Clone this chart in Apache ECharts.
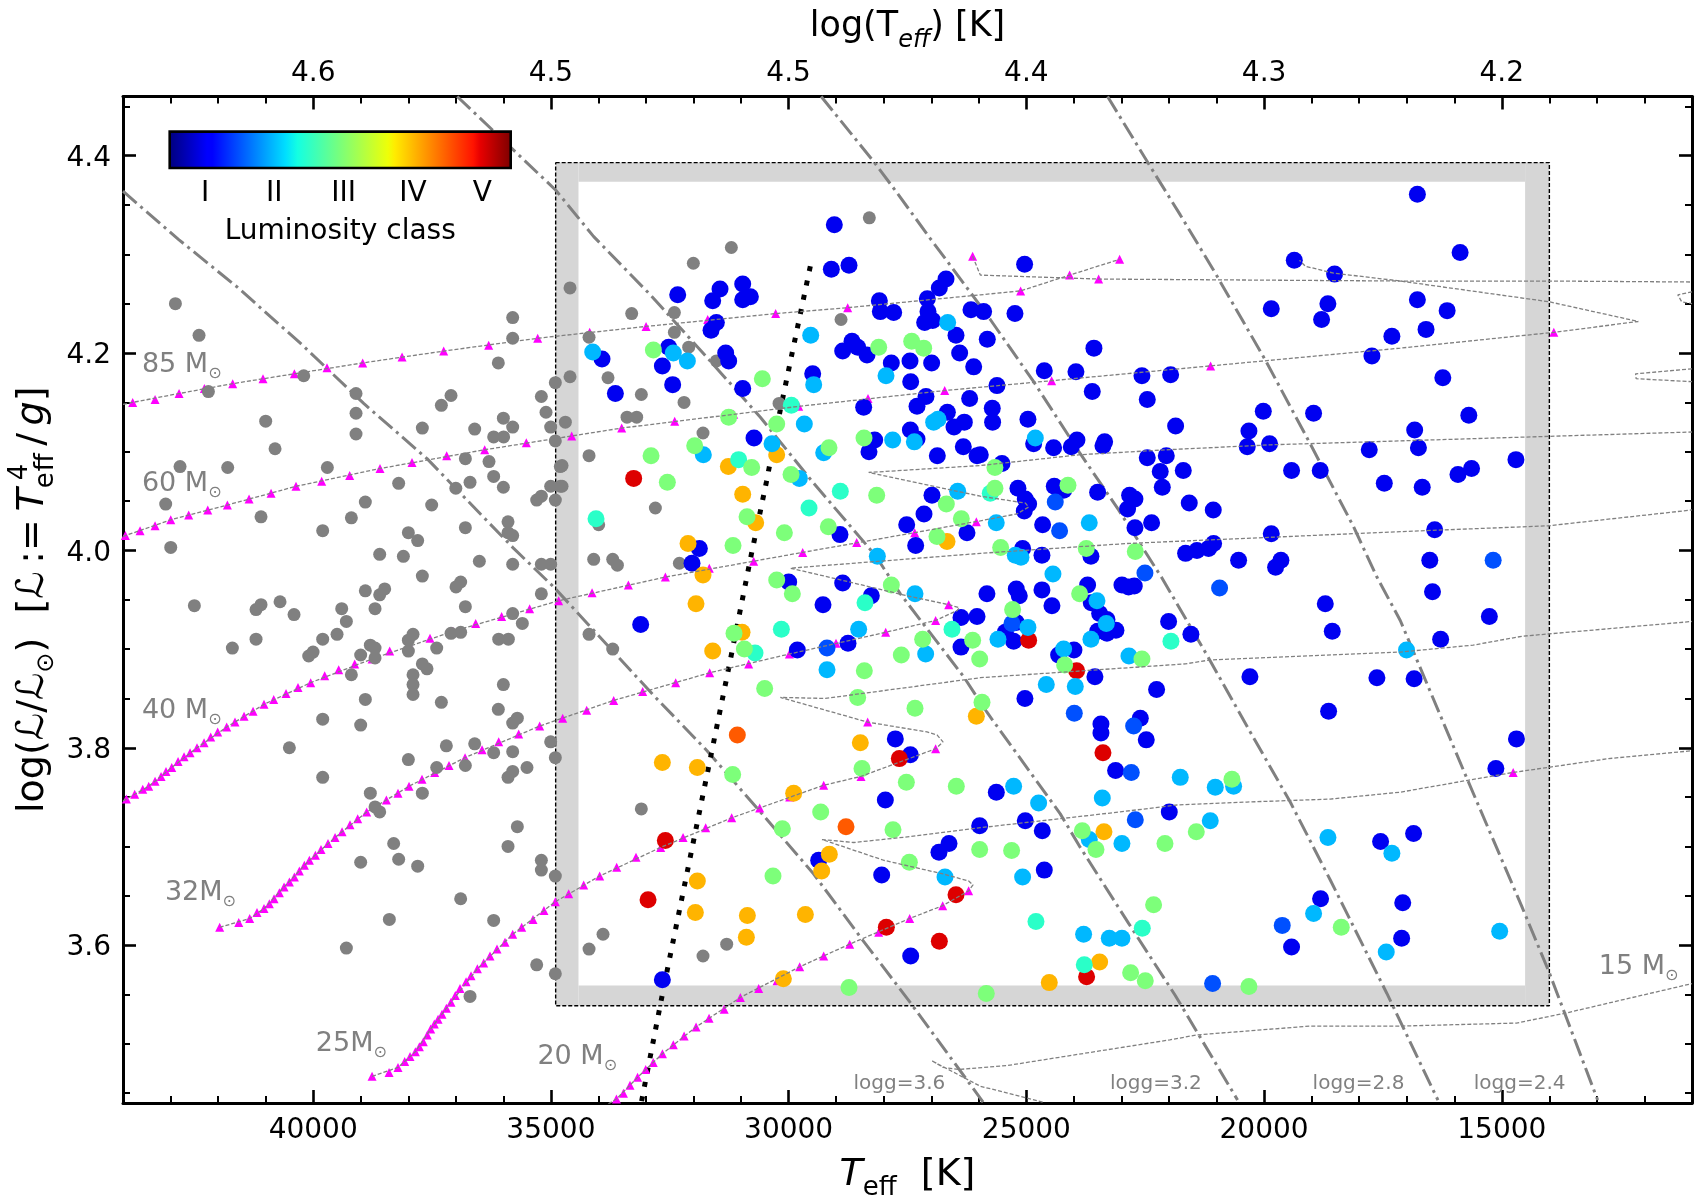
<!DOCTYPE html>
<html>
<head>
<meta charset="utf-8">
<title>sHRD</title>
<script src="https://cdn.jsdelivr.net/npm/echarts@6/dist/echarts.min.js"></script>
<style>
html, body { margin: 0; padding: 0; background: #fff; }
#chart { width: 1700px; height: 1200px; }
</style>
</head>
<body>
<div id="chart"></div>
<script>
const xMajor = [15000, 20000, 25000, 30000, 35000, 40000];
const xMinor = [12000,13000,14000,16000,17000,18000,19000,21000,22000,23000,24000,26000,27000,28000,29000,31000,32000,33000,34000,36000,37000,38000,39000,41000,42000,43000];
const yMajor = [3.6, 3.8, 4.0, 4.2, 4.4];
const yMinor = [3.45,3.5,3.55,3.65,3.7,3.75,3.85,3.9,3.95,4.05,4.1,4.15,4.25,4.3,4.35,4.45];
const classTicks = [1, 2, 3, 4, 5];
const classNames = ['I', 'II', 'III', 'IV', 'V'];

// stars: [Teff, log(L/Lsun)]
const starsNoClass = [[42898,4.250],[42401,4.218],[40199,4.177],[42204,4.161],[39099,4.159],[39099,4.139],[39099,4.118],[40999,4.131],[40802,4.103],[42800,4.085],[41798,4.084],[39702,4.084],[43102,4.047],[41097,4.034],[42996,4.003],[39800,4.020],[39197,4.033],[38903,4.049],[38202,4.068],[37508,4.046],[37998,4.018],[37802,4.010],[38601,3.996],[38103,3.994],[37704,3.974],[37000,4.063],[36799,4.023],[36701,4.069],[36799,4.093],[36302,4.090],[36204,4.075],[36000,4.064],[36106,4.190],[35804,4.215],[35804,4.236],[34907,4.170],[35201,4.156],[35103,4.140],[35005,4.125],[34907,4.111],[36603,4.123],[36204,4.115],[35994,4.115],[36000,4.134],[35804,4.125],[37304,4.147],[37101,4.157],[37704,4.124],[35902,4.029],[35902,4.018],[35804,4.015],[35804,3.986],[35201,3.986],[35005,3.986],[35201,4.055],[35299,4.051],[35005,4.065],[34802,4.065],[34907,4.051],[34802,4.085],[36505,3.989],[36898,3.968],[36996,3.963],[36799,3.943],[35201,3.956],[35804,3.936],[35601,3.926],[36098,3.910],[35895,3.910],[37101,3.916],[36898,3.917],[37402,3.901],[37998,3.898],[37900,3.915],[37998,3.909],[38798,3.904],[38699,3.901],[38699,3.891],[39001,3.894],[37704,3.885],[37606,3.880],[37900,3.874],[39197,3.874],[38903,3.959],[38601,3.955],[38496,3.961],[39400,3.941],[39302,3.928],[39498,3.915],[39800,3.910],[40003,3.897],[40094,3.893],[38699,3.941],[40697,3.948],[40403,3.935],[41097,3.945],[41202,3.940],[41202,3.910],[41700,3.901],[42499,3.944],
  [37900,3.864],[37900,3.854],[38903,3.849],[39800,3.829],[39001,3.823],[37304,3.846],[36000,3.864],[36106,3.839],[35706,3.830],[35804,3.825],[40501,3.800],[35005,3.806],[34907,3.790],[37998,3.788],[37199,3.802],[36603,3.804],[36204,3.795],[35804,3.796],[36799,3.782],[37402,3.780],[35503,3.780],[35804,3.776],[35902,3.770],[39800,3.770],[37704,3.754],[38798,3.754],[38699,3.740],[38601,3.735],[35706,3.720],[38307,3.703],[38202,3.687],[39001,3.684],[37802,3.680],[35902,3.700],[35201,3.686],[35201,3.676],[34907,3.670],[36898,3.647],[38398,3.626],[36204,3.625],[39302,3.597],[35299,3.580],[34907,3.571],[36701,3.548],
  [34598,4.266],[28303,4.337],[31205,4.307],[32004,4.291],[33301,4.240],[32403,4.241],[32403,4.221],[34198,4.216],[32102,4.206],[31520,4.192],[34598,4.176],[33799,4.175],[33098,4.158],[32200,4.150],[28898,4.234],[30202,4.149],[33399,4.135],[33196,4.135],[34696,4.130],[31801,4.119],[34198,4.096],[34766,4.086],[34766,4.065],[32803,4.043],[33995,4.026],[34100,3.991],[33700,3.991],[33602,3.985],[32298,3.987],
  [34198,3.915],[33700,3.900],[33098,3.738],[33904,3.611],[34198,3.596],[31801,3.589],[31303,3.601]];

const starsI = [[29039,4.330],[28730,4.289],[29102,4.285],[32333,4.259],[31443,4.265],[31597,4.253],[30966,4.270],[30805,4.257],[30966,4.254],[31520,4.231],[31632,4.223],[32523,4.206],[32656,4.187],[33925,4.194],[32439,4.168],[33644,4.159],[31324,4.200],[31261,4.192],[30966,4.164],[29494,4.179],[30728,4.114],[28422,4.145],[28863,4.202],[28667,4.212],[28548,4.206],[28352,4.198],[27840,4.190],[27447,4.192],[26992,4.190],[27433,4.171],[28092,4.253],[28071,4.242],[27791,4.241],[27083,4.255],[27069,4.242],[27139,4.231],[26971,4.233],[26831,4.266],[26690,4.275],[26165,4.244],[26480,4.218],[26403,4.200],[26108,4.186],[27111,4.156],[27300,4.146],[26662,4.140],[26305,4.130],[26522,4.125],[26193,4.154],[27440,4.122],[27300,4.113],[28190,4.112],[28310,4.100],[26873,4.096],[26326,4.105],[26038,4.096],[26985,4.056],[27153,4.037],[27517,4.026],[28920,4.016],[27328,4.005],[26249,4.018],[31878,4.002],[32032,3.987],[29999,3.968],[28863,3.967],
  [25037,4.290],[19365,4.294],[18517,4.280],[25899,4.242],[25240,4.240],[19849,4.245],[18658,4.250],[18791,4.234],[17312,4.217],[17732,4.197],[25822,4.214],[23579,4.205],[24623,4.182],[23957,4.181],[22569,4.177],[21966,4.178],[23614,4.161],[25618,4.167],[22457,4.153],[25717,4.144],[25710,4.130],[24967,4.133],[21861,4.126],[20017,4.141],[18959,4.139],[20319,4.121],[20354,4.105],[19884,4.108],[24847,4.108],[24427,4.104],[23936,4.112],[24055,4.105],[23354,4.110],[23389,4.106],[17788,4.102],[25969,4.097],[25513,4.088],[22457,4.094],[22057,4.096],[22184,4.080],[21700,4.081],[22141,4.064],[19422,4.081],[18819,4.081],[17472,4.068],[25177,4.063],[24413,4.065],[25023,4.052],[24952,4.047],[25044,4.040],[24216,4.061],[23501,4.059],[22829,4.056],[22716,4.052],[22871,4.042],[21574,4.048],[21069,4.041],[22366,4.028],[22716,4.023],[24658,4.026],[19849,4.017],[25079,4.002],[24672,3.995],[23642,3.994],[21062,4.007],[21167,4.002],[21412,4.000],[21651,3.997],[20536,3.990],[19646,3.990],[19758,3.983],[23712,3.965],
  [33112,3.925],[28261,3.954],[29277,3.945],[29817,3.899],[28751,3.906],[26375,3.932],[26038,3.933],[26375,3.902],[27756,3.809],[27440,3.793],[27966,3.747],[25982,3.721],[26627,3.703],[26838,3.694],[29368,3.686],[28043,3.671],[27433,3.589],[32656,3.565],
  [25829,3.956],[25212,3.961],[25149,3.954],[24672,3.960],[24462,3.944],[23635,3.947],[23459,3.936],[23305,3.930],[23116,3.919],[23305,3.916],[23501,3.918],[25212,3.927],[25443,3.917],[25268,3.908],[22008,3.928],[21539,3.915],[18713,3.946],[18566,3.918],[23999,3.899],[24322,3.894],[23558,3.872],[22261,3.859],[25030,3.850],[20298,3.872],[17627,3.871],[18643,3.837],[23431,3.824],[23431,3.815],[22604,3.830],[22478,3.808],[23123,3.777],[21994,3.735],[25632,3.755],[25023,3.726],[24665,3.716],[24623,3.676],[18812,3.647],[19422,3.598],[17550,3.705],[22990,3.965],[22850,3.963],[22730,3.964],
  [16776,4.361],[15877,4.302],[16776,4.254],[16150,4.243],[16594,4.224],[16241,4.175],[15694,4.137],[16833,4.122],[16754,4.104],[14703,4.092],[15637,4.083],[15922,4.077],[16674,4.064],[16458,3.958],[16515,3.990],[16412,4.021],[15262,3.933],[16287,3.910],[16845,3.870],[14692,3.809],[15125,3.779],[16856,3.713],[17084,3.643],[17107,3.607]];

const starsIb = [[24392,4.049],[24301,4.020],[22506,3.977],[29193,3.901],[25303,3.926],[23992,3.835],[22744,3.822],[22793,3.775],[22709,3.727],[19618,3.620],[20936,3.962],[21083,3.561],[15182,3.990]];

const starsII = [[34121,4.201],[32425,4.200],[32130,4.192],[29536,4.218],[29473,4.168],[26655,4.231],[27952,4.177],[29670,4.128],[30350,4.108],[31794,4.097],[29263,4.099],[27812,4.112],[27356,4.110],[26950,4.130],[26859,4.133],[29775,4.073],[26445,4.060],[28134,3.994],[24812,4.114],[23677,4.028],[25633,4.028],[25233,3.995],[25114,3.993],[24441,3.976],[28527,3.920],[29193,3.879],[27342,3.956],[27118,3.895],[26711,3.669],[24967,3.922],[25597,3.910],[23515,3.949],[23319,3.926],[23642,3.910],[24216,3.900],[22842,3.893],[24581,3.864],[23971,3.862],[21763,3.770],[21027,3.760],[20641,3.761],[23403,3.749],[25268,3.761],[24742,3.744],[21132,3.726],[22990,3.703],[23677,3.707],[25079,3.669],[18657,3.709],[17312,3.693],[18959,3.632],[23796,3.611],[23256,3.607],[22990,3.607],[17431,3.593],[15045,3.614],[17004,3.899]];

const starsIIb = [[29943,4.147],[31051,4.092],[34051,4.032],[28913,4.060],[29571,4.043],[30153,3.920],[30707,3.896],[28394,3.947],[26564,3.920],[21959,3.908],[24798,3.624],[22562,3.617],[23782,3.580],[25759,4.058]];

const starsIII = [[32845,4.203],[30553,4.174],[31261,4.135],[30251,4.128],[31976,4.106],[32894,4.096],[32551,4.069],[30777,4.084],[29950,4.077],[29151,4.104],[28415,4.114],[28106,4.206],[27412,4.212],[27160,4.205],[28148,4.056],[30875,4.034],[30090,4.018],[29165,4.024],[31170,4.005],[26683,4.047],[26368,4.032],[26880,4.014],[30251,3.970],[25541,4.003],[23740,4.002],[22709,3.999],[25661,4.084],[25661,4.063],[24125,4.066],[29922,3.956],[27840,3.965],[31149,3.916],[30931,3.900],[27181,3.910],[27630,3.894],[28408,3.878],[26130,3.909],[25982,3.890],[30504,3.860],[28548,3.851],[27342,3.840],[25933,3.846],[31177,3.773],[28457,3.779],[27524,3.765],[26473,3.761],[29326,3.735],[30132,3.718],[27805,3.717],[27461,3.684],[25982,3.697],[30329,3.670],[28730,3.557],[23880,3.956],[25289,3.940],[24195,3.884],[22569,3.890],[25310,3.696],[23824,3.716],[23536,3.697],[22085,3.703],[21426,3.715],[20676,3.768],[22324,3.641],[18377,3.618],[22807,3.572],[22499,3.564],[20319,3.558],[25843,3.551]];

const starsIV = [[32116,4.007],[31268,4.085],[30966,4.057],[30251,4.097],[30693,4.028],[26669,4.009],[31801,3.975],[31948,3.946],[30980,3.917],[31597,3.898],[26052,3.832],[28492,3.805],[32656,3.785],[31920,3.780],[29894,3.754],[29144,3.692],[29305,3.675],[31920,3.665],[31962,3.633],[30868,3.630],[29648,3.631],[30889,3.608],[30111,3.566],[23368,3.715],[23459,3.583],[24518,3.562]];

const starsIVb = [[31079,3.813],[28793,3.720]];

const starsV = [[33259,4.073],[32593,3.706],[32957,3.646],[27672,3.789],[26480,3.651],[27945,3.618],[26830,3.604],[24952,3.909],[23943,3.878],[23389,3.795],[23733,3.568]];

// evolutionary tracks, the marks* points carry a triangle
const marks85 = [[43796,4.150],[43326,4.153],[42821,4.159],[42288,4.164],[41693,4.169],[41055,4.174],[40396,4.179],[39709,4.185],[38959,4.190],[38131,4.196],[37255,4.202],[36309,4.208],[35278,4.215],[34184,4.221],[32999,4.227],[31702,4.234],[30273,4.240],[28758,4.246],[25121,4.263],[24090,4.279],[23039,4.295],[26130,4.298],[23480,4.275]];
const track85a = [[44000,4.148],[43796,4.150],[42821,4.159],[41693,4.169],[40396,4.179],[38959,4.190],[37255,4.202],[35278,4.215],[32999,4.227],[30273,4.240],[28758,4.246],[25969,4.259],[25121,4.263],[24090,4.279],[23039,4.295]];
const track85b = [[26130,4.298],[25968,4.279],[23480,4.275],[17137,4.273],[14010,4.273],[11000,4.272]];
const track85c = [[11000,4.262],[11298,4.259],[11218,4.252],[11000,4.250]];

const marks60 = [[43950,4.015],[43641,4.020],[43326,4.025],[42996,4.031],[42618,4.036],[42218,4.041],[41805,4.046],[41349,4.052],[40886,4.058],[40361,4.065],[39821,4.070],[39232,4.076],[38594,4.083],[37921,4.089],[37192,4.096],[36393,4.102],[35517,4.109],[34563,4.116],[33511,4.124],[32397,4.131],[31156,4.138],[29789,4.146],[28331,4.154],[26718,4.162],[24469,4.172],[21125,4.187],[13906,4.221]];
const track60a = [[44000,4.014],[43950,4.015],[42996,4.031],[41805,4.046],[40361,4.065],[38594,4.083],[36393,4.102],[33511,4.124],[29789,4.146],[26718,4.162],[24469,4.172],[21125,4.187],[17136,4.205],[13906,4.221],[12129,4.232],[14008,4.252],[17137,4.273],[18538,4.281],[19134,4.288],[19254,4.294]];
const track60b = [[11000,4.184],[12186,4.179],[12175,4.174],[11000,4.171]];

const marks40 = [[43929,3.748],[43754,3.753],[43585,3.758],[43459,3.761],[43326,3.766],[43200,3.771],[43095,3.776],[42975,3.780],[42842,3.786],[42716,3.791],[42590,3.795],[42443,3.800],[42295,3.805],[42155,3.811],[42008,3.816],[41819,3.821],[41644,3.826],[41454,3.832],[41265,3.837],[41034,3.844],[40830,3.849],[40571,3.855],[40319,3.861],[40052,3.866],[39758,3.873],[39464,3.879],[39127,3.885],[38762,3.890],[38391,3.898],[37984,3.905],[37543,3.911],[37060,3.918],[36582,3.926],[36036,3.933],[35447,3.941],[34837,3.949],[34134,3.957],[33371,3.965],[32593,3.973],[31668,3.982],[30735,3.989],[29705,3.998],[28569,4.008],[27349,4.018],[26052,4.029]];
const track40 = [[44000,3.746],[43929,3.748],[43459,3.761],[42975,3.780],[42443,3.800],[41819,3.821],[41034,3.844],[40052,3.866],[38762,3.890],[37060,3.918],[34837,3.949],[32593,3.973],[29705,3.998],[27349,4.018],[25969,4.030],[25198,4.037],[24952,4.044],[25023,4.048],[25969,4.055],[28317,4.079],[25968,4.086],[23866,4.097],[22043,4.102],[19870,4.107],[17136,4.111],[11000,4.120]];

const marks32 = [[41966,3.618],[41566,3.623],[41335,3.627],[41181,3.633],[41034,3.637],[40922,3.642],[40823,3.647],[40711,3.653],[40613,3.659],[40501,3.664],[40396,3.669],[40291,3.675],[40185,3.681],[40080,3.686],[39954,3.691],[39835,3.697],[39688,3.703],[39540,3.709],[39393,3.715],[39225,3.722],[39064,3.728],[38874,3.735],[38461,3.747],[38216,3.754],[37984,3.761],[37711,3.768],[37445,3.775],[37143,3.782],[36806,3.790],[36448,3.798],[36098,3.806],[35678,3.814],[35236,3.822],[34752,3.830],[34247,3.838],[33679,3.848],[33070,3.857],[32375,3.866],[31660,3.876],[30840,3.885],[29985,3.895],[29004,3.906],[27959,3.917],[26908,3.929],[26634,3.945]];
const track32 = [[41966,3.618],[41335,3.627],[41034,3.637],[40613,3.659],[40080,3.686],[39540,3.709],[38874,3.735],[37984,3.761],[36806,3.790],[35236,3.822],[33679,3.848],[31660,3.876],[29985,3.895],[27959,3.917],[26908,3.929],[26459,3.939],[26410,3.942],[26634,3.945],[27510,3.954],[28983,3.971],[29964,3.982],[25968,3.997],[22885,4.007],[17136,4.019],[14009,4.025],[11000,4.041]];

const marks25 = [[38762,3.467],[38404,3.471],[38216,3.476],[38075,3.482],[37963,3.487],[37851,3.492],[37767,3.497],[37683,3.502],[37599,3.509],[37529,3.515],[37452,3.520],[37374,3.525],[37290,3.530],[37199,3.536],[37101,3.542],[37010,3.549],[36912,3.556],[36785,3.563],[36680,3.569],[36547,3.576],[36414,3.582],[36281,3.589],[36134,3.596],[35965,3.603],[35804,3.611],[35615,3.618],[35377,3.626],[35146,3.635],[34907,3.644],[34626,3.652],[34310,3.661],[33974,3.670],[33616,3.679],[33210,3.689],[32691,3.699],[32221,3.709],[31745,3.719],[31198,3.729],[30609,3.739],[29978,3.750],[29263,3.762],[28478,3.771],[26908,3.799],[28338,3.826]];
const track25 = [[38762,3.467],[38216,3.476],[37851,3.492],[37529,3.515],[37101,3.542],[36547,3.576],[35804,3.611],[34907,3.644],[33974,3.670],[32691,3.699],[31198,3.729],[29263,3.762],[28478,3.771],[26908,3.799],[26753,3.806],[26740,3.808],[26880,3.813],[27090,3.816],[28338,3.826],[30174,3.851],[29228,3.850],[25968,3.871],[21658,3.885],[21132,3.889],[17136,3.897],[15603,3.904],[14578,3.913],[11000,3.928]];

const marks20 = [[33622,3.444],[33474,3.450],[33337,3.458],[33177,3.466],[33007,3.474],[32847,3.481],[32654,3.490],[32426,3.499],[32198,3.508],[31947,3.517],[31674,3.526],[31355,3.535],[31015,3.547],[30630,3.556],[30244,3.564],[29768,3.578],[29263,3.589],[28716,3.601],[28106,3.613],[27454,3.627],[26760,3.640],[26214,3.655],[14761,3.775]];
const track20 = [[33900,3.436],[33622,3.444],[33177,3.466],[32654,3.490],[31947,3.517],[31015,3.547],[29768,3.578],[28716,3.601],[27454,3.627],[26760,3.640],[26214,3.655],[26122,3.661],[26214,3.665],[26740,3.672],[28001,3.686],[29298,3.707],[28632,3.704],[27440,3.710],[25968,3.719],[23025,3.735],[21833,3.742],[20361,3.745],[18608,3.748],[17136,3.755],[15717,3.767],[14761,3.775],[13895,3.781],[12756,3.789],[11000,3.797]];

const track15 = [[24658,3.441],[25968,3.457],[26800,3.478],[26993,3.483],[26750,3.476],[26424,3.474],[25399,3.478],[21982,3.504],[21412,3.509],[19020,3.518],[17084,3.518],[14692,3.521],[13667,3.531],[11000,3.561]];

const trackPieces = [track85a, track85b, track85c, track60a, track60b, track40, track32, track25, track20, track15];
const trackMarks = [marks85, marks60, marks40, marks32, marks25, marks20];

// lines of constant logg
const logg36 = [[44000,4.364],[42828,4.315],[41601,4.267],[40270,4.210],[38938,4.149],[37606,4.093],[35783,4.002],[34942,3.963],[34100,3.919],[32838,3.853],[31717,3.797],[30595,3.735],[29473,3.672],[28457,3.606],[27476,3.544],[25911,3.441]];
const logg32 = [[36970,4.460],[34897,4.365],[34100,4.318],[32908,4.259],[31576,4.188],[30595,4.135],[29473,4.068],[28176,3.995],[27651,3.956],[26319,3.872],[25829,3.836],[24287,3.733],[23866,3.699],[22849,3.622],[21868,3.549],[20558,3.443]];
const logg28 = [[29316,4.460],[28211,4.394],[27791,4.367],[27020,4.316],[26108,4.257],[25759,4.234],[24847,4.171],[23866,4.098],[23060,4.041],[22148,3.972],[21202,3.894],[20291,3.816],[19450,3.745],[18608,3.666],[17417,3.551],[16344,3.443]];
const logg24 = [[23292,4.460],[22394,4.389],[21763,4.340],[21062,4.284],[19975,4.193],[19029,4.108],[18118,4.024],[17627,3.973],[17136,3.929],[15717,3.767],[14578,3.639],[14009,3.573],[12984,3.443]];
const loggLines = [logg36, logg32, logg28, logg24];

const coneEdge = [[29544,4.288],[29922,4.201],[30177,4.142],[30469,4.069],[30784,3.996],[31268,3.879],[31639,3.791],[31948,3.718],[32256,3.645],[32628,3.557],[33100,3.440]];

const massLabels = [[43613,4.188,'85 M{sun|⊙}'],[43613,4.067,'60 M{sun|⊙}'],[43613,3.837,'40 M{sun|⊙}'],[43129,3.653,'32M{sun|⊙}'],[39954,3.500,'25M{sun|⊙}'],[35294,3.487,'20 M{sun|⊙}'],[12970,3.578,'15 M{sun|⊙}']];
const loggLabels = [[28646,3.459,'logg=3.6'],[23250,3.459,'logg=3.2'],[18990,3.459,'logg=2.8'],[15600,3.459,'logg=2.4']];

const boxOuter = { hot: 34900, cool: 14000, top: 4.393, bottom: 3.5385 };
const boxInner = { hot: 34420, cool: 14510, top: 4.3736, bottom: 3.559 };

const jetStops = [[0,'#00007f'],[0.11,'#0000ff'],[0.125,'#0000ff'],[0.34,'#00dfff'],[0.375,'#14ffe2'],[0.5,'#7aff7a'],[0.64,'#eeff08'],[0.66,'#ffec00'],[0.89,'#ff1300'],[0.91,'#e80000'],[1,'#7f0000']];

const FONT = '"DejaVu Sans"';
const GRAY = '#808080';
const X0 = 11000, X1 = 44000, Y0 = 3.44, Y1 = 4.46;

function xAxisSide(position, isMinor, extra) {
    return Object.assign({
        type: 'value', gridIndex: 0, position: position, min: X0, max: X1, inverse: true,
        splitLine: { show: false },
        axisLine: { show: !isMinor, lineStyle: { color: '#000', width: 3 } },
        axisTick: {
            show: true, inside: true, length: isMinor ? 7 : 13,
            lineStyle: { color: '#000', width: isMinor ? 2 : 2.6 },
            customValues: isMinor ? xMinor : xMajor
        },
        axisLabel: { show: false }
    }, extra);
}
function yAxisSide(position, isMinor, extra) {
    return Object.assign({
        type: 'value', gridIndex: 0, position: position, min: Y0, max: Y1,
        splitLine: { show: false },
        axisLine: { show: !isMinor, lineStyle: { color: '#000', width: 3 } },
        axisTick: {
            show: true, inside: true, length: isMinor ? 7 : 13,
            lineStyle: { color: '#000', width: isMinor ? 2 : 2.6 },
            customValues: isMinor ? yMinor : yMajor
        },
        axisLabel: { show: false }
    }, extra);
}
const tickText = { show: true, fontFamily: FONT, fontSize: 28, color: '#000' };
const nameRich = {
    it: { fontFamily: FONT, fontStyle: 'italic', fontSize: 38, color: '#000' },
    sub: { fontFamily: FONT, fontSize: 26, color: '#000', verticalAlign: 'bottom' },
    sup: { fontFamily: FONT, fontSize: 26, color: '#000', verticalAlign: 'top', width: 1 },
    subit: { fontFamily: FONT, fontStyle: 'italic', fontSize: 24, color: '#000', verticalAlign: 'bottom' },
    sun: { fontFamily: FONT, fontSize: 24, color: '#000', verticalAlign: 'bottom' }
};
const nameStyle = { fontFamily: FONT, fontSize: 38, lineHeight: 52, color: '#000', rich: nameRich };

function starSeries(data, color, size, z) {
    return {
        type: 'scatter', data: data, symbol: 'circle', symbolSize: size, z: z,
        itemStyle: { color: color, opacity: 1 }, silent: true
    };
}

const series = [];
// frame of the selected sample
series.push({
    type: 'line', data: [], z: 1, silent: true, showSymbol: false,
    markArea: {
        silent: true, z: 1,
        itemStyle: { color: '#d6d6d6', opacity: 1 },
        data: [
            [{ coord: [boxOuter.hot, boxOuter.top] }, { coord: [boxInner.hot, boxOuter.bottom] }],
            [{ coord: [boxInner.cool, boxOuter.top] }, { coord: [boxOuter.cool, boxOuter.bottom] }],
            [{ coord: [boxInner.hot, boxOuter.top] }, { coord: [boxInner.cool, boxInner.top] }],
            [{ coord: [boxInner.hot, boxInner.bottom] }, { coord: [boxInner.cool, boxOuter.bottom] }]
        ]
    }
});
series.push({
    type: 'line', z: 2, silent: true, showSymbol: false, symbol: 'none',
    data: [[boxOuter.hot, boxOuter.top], [boxOuter.cool, boxOuter.top], [boxOuter.cool, boxOuter.bottom], [boxOuter.hot, boxOuter.bottom], [boxOuter.hot, boxOuter.top]],
    lineStyle: { color: '#000', width: 1.4, type: [4, 2] }
});
loggLines.forEach(function (d) {
    series.push({
        type: 'line', data: d, z: 3, silent: true, symbol: 'none',
        lineStyle: { color: GRAY, width: 3, type: [18, 5, 3, 5] }
    });
});
series.push({
    type: 'line', data: coneEdge, z: 3, silent: true, symbol: 'none',
    lineStyle: { color: '#000', width: 5, type: [5, 9.6] }
});
trackMarks.forEach(function (d) {
    series.push({
        type: 'scatter', data: d, symbol: 'triangle', symbolSize: 9, z: 4, silent: true,
        itemStyle: { color: '#ff00ff', opacity: 1 }
    });
});
series.push(starSeries(starsNoClass, GRAY, 13, 5));
series.push(starSeries(starsI, '#0000f1', 17, 6));
series.push(starSeries(starsIb, '#0050ff', 17, 6));
series.push(starSeries(starsV, '#dd0000', 17, 6));
series.push(starSeries(starsIVb, '#ff5a00', 17, 6));
series.push(starSeries(starsIV, '#ffb400', 17, 6));
series.push(starSeries(starsII, '#00b8ff', 17, 7));
series.push(starSeries(starsIIb, '#2affc8', 17, 7));
series.push(starSeries(starsIII, '#7dff7a', 17, 7));
trackPieces.forEach(function (d) {
    series.push({
        type: 'line', data: d, z: 8, silent: true, symbol: 'none',
        lineStyle: { color: GRAY, width: 1.3, type: [4, 2] }
    });
});
series.push({
    type: 'scatter', data: massLabels, symbolSize: 1, z: 9, silent: true,
    itemStyle: { color: 'rgba(0,0,0,0)', opacity: 1 },
    label: {
        show: true, position: 'right', distance: 0, fontFamily: FONT, fontSize: 27, lineHeight: 34, color: GRAY,
        formatter: function (p) { return p.data[2]; },
        rich: { sun: { fontFamily: FONT, fontSize: 16, color: GRAY, verticalAlign: 'bottom' } }
    }
});
series.push({
    type: 'scatter', data: loggLabels, symbolSize: 1, z: 9, silent: true,
    itemStyle: { color: 'rgba(0,0,0,0)', opacity: 1 },
    label: {
        show: true, position: 'right', distance: 0, fontFamily: FONT, fontSize: 20, color: GRAY,
        formatter: function (p) { return p.data[2]; }
    }
});
// colour bar
series.push({
    type: 'line', xAxisIndex: 4, yAxisIndex: 4, data: [], z: 20, silent: true, showSymbol: false,
    markArea: {
        silent: true, z: 20,
        itemStyle: {
            opacity: 1,
            color: new echarts.graphic.LinearGradient(0, 0, 1, 0, jetStops.map(function (s) { return { offset: s[0], color: s[1] }; }))
        },
        data: [[{ coord: [0.49, 0] }, { coord: [5.41, 1] }]]
    }
});

const option = {
    animation: false,
    backgroundColor: '#fff',
    grid: [
        { left: 123, right: 8, top: 96.5, bottom: 97, containLabel: false, outerBoundsMode: 'none' },
        { left: 169.7, width: 341, top: 131.6, height: 36.4, z: 30, outerBoundsMode: 'none' }
    ],
    xAxis: [
        xAxisSide('bottom', false, {
            axisLabel: Object.assign({}, tickText, { customValues: xMajor, margin: 14, formatter: function (v) { return String(v); } }),
            name: '{it|T}{sub|eff}  [K]', nameLocation: 'middle', nameGap: 46, nameMoveOverlap: false, nameTextStyle: nameStyle
        }),
        xAxisSide('top', false, {
            axisLabel: Object.assign({}, tickText, {
                customValues: xMajor, margin: 9,
                formatter: function (v) { return Math.log10(v).toFixed(1); }
            }),
            name: 'log(T{subit|eff}) [K]', nameLocation: 'middle', nameGap: 44, nameMoveOverlap: false,
            nameTextStyle: Object.assign({}, nameStyle, { fontSize: 35 })
        }),
        xAxisSide('bottom', true),
        xAxisSide('top', true),
        {
            type: 'value', gridIndex: 1, position: 'bottom', min: 0.49, max: 5.41,
            splitLine: { show: false },
            axisLine: { show: false },
            axisTick: { show: true, inside: true, length: 9, lineStyle: { color: '#000', width: 2 }, customValues: classTicks },
            axisLabel: {
                show: true, fontFamily: FONT, fontSize: 28, color: '#000', margin: 12, customValues: classTicks,
                formatter: function (v) { return classNames[Math.round(v) - 1]; }
            },
            name: 'Luminosity class', nameLocation: 'middle', nameGap: 50, nameMoveOverlap: false,
            nameTextStyle: { fontFamily: FONT, fontSize: 28, color: '#000' }
        }
    ],
    yAxis: [
        yAxisSide('left', false, {
            axisLabel: Object.assign({}, tickText, {
                customValues: yMajor, margin: 12,
                formatter: function (v) { return '{v|' + v.toFixed(1) + '}'; },
                rich: { v: { fontFamily: FONT, fontSize: 28, color: '#000', padding: [6, 0, 0, 0] } }
            }),
            name: 'log(ℒ/ℒ{sun|⊙})  [ℒ\u2009:=\u2009{it|T}{sub|e}{sup|4}{sub|ff}\u2009/\u2009{it|g}]', nameLocation: 'middle', nameGap: 64, nameRotate: 90, nameMoveOverlap: false,
            nameTextStyle: nameStyle
        }),
        yAxisSide('right', false),
        yAxisSide('left', true),
        yAxisSide('right', true),
        {
            type: 'value', gridIndex: 1, position: 'left', min: 0, max: 1,
            splitLine: { show: false }, axisTick: { show: false }, axisLabel: { show: false },
            axisLine: { show: false }
        }
    ],
    series: series,
    graphic: [{
        type: 'rect', z: 40, silent: true,
        shape: { x: 169.7, y: 131.6, width: 341, height: 36.4 },
        style: { fill: 'none', stroke: '#000', lineWidth: 2.6 }
    }]
};

const chart = echarts.init(document.getElementById('chart'), null, { renderer: 'canvas' });
chart.setOption(option);
</script>
</body>
</html>
